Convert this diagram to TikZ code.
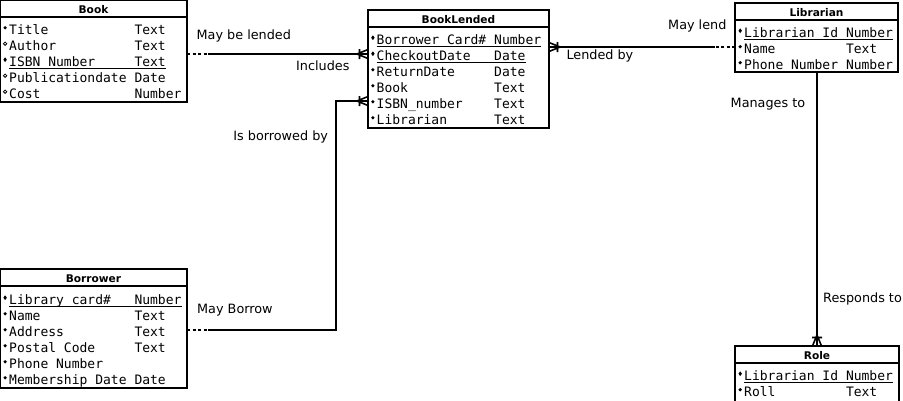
\documentclass[tikz,border=0pt]{standalone}
\usepackage{fontspec}
\setmainfont{DejaVu Sans}
\setmonofont{DejaVu Sans Mono}
\usetikzlibrary{shapes.geometric}

\begin{document}
\begin{tikzpicture}[x=1pt, y=1pt,
  entity/.style={draw, line width=2pt, outer sep=0pt, inner sep=0pt, anchor=north west},
  entityhead/.style={entity, minimum height=17pt, text height=10.6pt, text depth=0pt,
    font=\fontsize{10.6}{12}\selectfont\bfseries},
  attr/.style={anchor=base west, inner sep=0pt, font=\fontsize{13}{16}\ttfamily},
  note/.style={anchor=base west, inner sep=0pt, font=\fontsize{12.8}{15}\selectfont},
  dotmark/.style={circle, fill, inner sep=0pt, minimum size=3.6pt},
  ringmark/.style={circle, draw, line width=0.8pt, inner sep=0pt, minimum size=3.4pt},
  keymark/.style={diamond, fill, inner sep=0pt, minimum width=3.6pt, minimum height=5pt},
  uline/.style={line width=1pt},
  noline/.style={draw=none},
  rel/.style={line width=2pt},
  opt/.style={rel, dash pattern=on 3pt off 2.5pt},
  crow/.pic={\draw[line width=1.6pt] (0,-4.5) -- (-11,0) -- (0,4.5) (-11,0) -- (0,0) (-8.5,-5) -- (-8.5,5);}]

\useasboundingbox (0,0) rectangle (903,-400);

% The entity boxes and their title rows
\node[entity, minimum width=187pt, minimum height=102pt] (book) at (0,0) {};
\node[entityhead, minimum width=187pt] (book-h) at (book.north west) {Book};
\node[entity, minimum width=181pt, minimum height=118pt] (lended) at (368,-10) {};
\node[entityhead, minimum width=181pt] (lended-h) at (lended.north west) {BookLended};
\node[entity, minimum width=163pt, minimum height=68.5pt] (librarian) at (735,-3) {};
\node[entityhead, minimum width=163pt] (librarian-h) at (librarian.north west) {Librarian};
\node[entity, minimum width=187pt, minimum height=119pt] (borrower) at (0,-269) {};
\node[entityhead, minimum width=187pt] (borrower-h) at (borrower.north west) {Borrower};
\node[entity, minimum width=164pt, minimum height=60pt] (role) at (735,-346) {};
\node[entityhead, minimum width=164pt] (role-h) at (role.north west) {Role};

% Attributes of Book
\foreach \nm/\ty/\mk/\ul [count=\i] in {
  Title/Text/dotmark/noline,
  Author/Text/ringmark/noline,
  ISBN\_Number/Text/keymark/uline,
  Publicationdate/Date/ringmark/noline,
  Cost/Number/ringmark/noline} {
  \node[attr] (book-n\i) at (9,-18-16*\i) {\nm};
  \node[attr] (book-t\i) at (134.3,-18-16*\i) {\ty};
  \node[\mk] at ([shift={(-3.9,6.3)}]book-n\i.base west) {};
  \draw[\ul] ([yshift=-2pt]book-n\i.base west) -- ([yshift=-2pt]book-t\i.base east);
}

% Attributes of BookLended
\foreach \nm/\ty/\mk/\ul [count=\i] in {
  Borrower Card\#/Number/keymark/uline,
  CheckoutDate/Date/keymark/uline,
  ReturnDate/Date/dotmark/noline,
  Book/Text/dotmark/noline,
  ISBN\_number/Text/dotmark/noline,
  Librarian/Text/dotmark/noline} {
  \node[attr] (lended-n\i) at (376.5,-28-16*\i) {\nm};
  \node[attr] (lended-t\i) at (494,-28-16*\i) {\ty};
  \node[\mk] at ([shift={(-3.6,6.3)}]lended-n\i.base west) {};
  \draw[\ul] ([yshift=-2pt]lended-n\i.base west) -- ([yshift=-2pt]lended-t\i.base east);
}

% Attributes of Librarian
\foreach \nm/\ty/\mk/\ul [count=\i] in {
  Librarian Id/Number/keymark/uline,
  Name/Text/dotmark/noline,
  Phone Number/Number/dotmark/noline} {
  \node[attr] (librarian-n\i) at (744,-21-16*\i) {\nm};
  \node[attr] (librarian-t\i) at (845.8,-21-16*\i) {\ty};
  \node[\mk] at ([shift={(-3.8,6.3)}]librarian-n\i.base west) {};
  \draw[\ul] ([yshift=-2pt]librarian-n\i.base west) -- ([yshift=-2pt]librarian-t\i.base east);
}

% Attributes of Borrower
\foreach \nm/\ty/\mk/\ul [count=\i] in {
  Library card\#/Number/keymark/uline,
  Name/Text/dotmark/noline,
  Address/Text/dotmark/noline,
  Postal Code/Text/dotmark/noline,
  Phone Number//dotmark/noline,
  Membership Date/Date/dotmark/noline} {
  \node[attr] (borrower-n\i) at (9,-288-16*\i) {\nm};
  \node[attr] (borrower-t\i) at (134.3,-288-16*\i) {\ty};
  \node[\mk] at ([shift={(-3.9,6.3)}]borrower-n\i.base west) {};
  \draw[\ul] ([yshift=-2pt]borrower-n\i.base west) -- ([yshift=-2pt]borrower-t\i.base east);
}

% Attributes of Role
\foreach \nm/\ty/\mk/\ul [count=\i] in {
  Librarian Id/Number/keymark/uline,
  Roll/Text/dotmark/noline} {
  \node[attr] (role-n\i) at (744,-364-16*\i) {\nm};
  \node[attr] (role-t\i) at (845.8,-364-16*\i) {\ty};
  \node[\mk] at ([shift={(-3.8,6.3)}]role-n\i.base west) {};
  \draw[\ul] ([yshift=-2pt]role-n\i.base west) -- ([yshift=-2pt]role-t\i.base east);
}

% Book to BookLended
\draw[opt] ([yshift=-54pt]book.north east) -- ++(21,0) coordinate (bk-a);
\draw[rel] (bk-a) -- (bk-a -| lended.west);
\pic at (bk-a -| lended.west) {crow};

% Borrower to BookLended
\draw[opt] ([yshift=-61pt]borrower.north east) -- ++(21,0) coordinate (br-a);
\draw[rel] (br-a) -- ++(128,0) |- ([yshift=-91pt]lended.north west) coordinate (br-b);
\pic at (br-b) {crow};

% Librarian to BookLended
\draw[opt] ([yshift=-44pt]librarian.north west) -- ++(-20,0) coordinate (lb-a);
\draw[rel] (lb-a) -- (lb-a -| lended.east);
\pic[rotate=180] at (lb-a -| lended.east) {crow};

% Librarian to Role
\draw[rel] (role.north |- librarian.south) -- (role.north);
\pic[rotate=-90] at (role.north) {crow};

% Relationship texts
\node[note] (t-lended) at (196.5,-39.5) {May be lended};
\node[note] (t-includes) at (296,-70) {Includes};
\node[note] (t-borrowed) at (233.2,-140) {Is borrowed by};
\node[note] (t-borrow) at (197,-313) {May Borrow};
\node[note] (t-lend) at (668,-29) {May lend};
\node[note] (t-lendedby) at (566.3,-59) {Lended by};
\node[note] (t-manages) at (730.5,-107) {Manages to};
\node[note] (t-responds) at (823,-302) {Responds to};

\end{tikzpicture}
\end{document}
